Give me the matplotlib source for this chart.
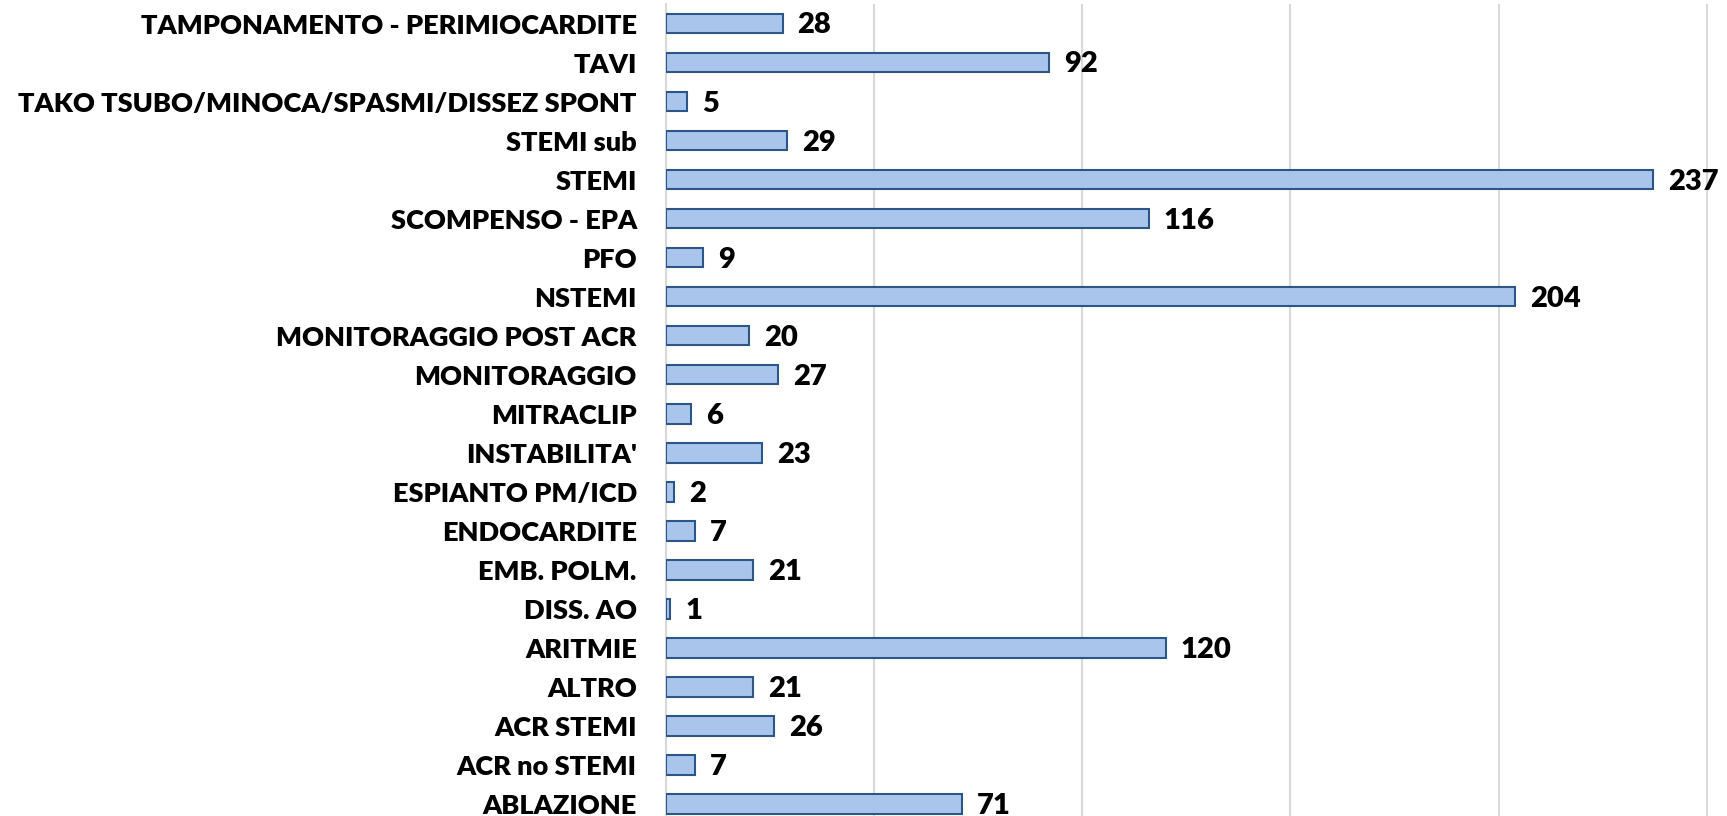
import matplotlib
matplotlib.use("Agg")
import matplotlib.pyplot as plt

categories = ["ABLAZIONE", "ACR no STEMI", "ACR STEMI", "ALTRO", "ARITMIE", "DISS. AO",
              "EMB. POLM.", "ENDOCARDITE", "ESPIANTO PM/ICD", "INSTABILITA'", "MITRACLIP",
              "MONITORAGGIO", "MONITORAGGIO POST ACR", "NSTEMI", "PFO", "SCOMPENSO - EPA",
              "STEMI", "STEMI sub", "TAKO TSUBO/MINOCA/SPASMI/DISSEZ SPONT", "TAVI",
              "TAMPONAMENTO - PERIMIOCARDITE"]
values = [71, 7, 26, 21, 120, 1, 21, 7, 2, 23, 6, 27, 20, 204, 9, 116, 237, 29, 5, 92, 28]
grid_ticks = [50, 100, 150, 200, 250]

plt.rcParams["font.family"] = ["Lato", "DejaVu Sans"]

fig = plt.figure(figsize=(17.27, 8.16), dpi=100)
# the plot area runs slightly past the bottom of the image, as in the original
ax = fig.add_axes([666 / 1727, -7.5 / 816, 1 - 666 / 1727 + 0.01, 819.5 / 816])

pos = list(range(len(categories)))
ax.barh(pos, values, height=0.5, color="#a9c5eb", edgecolor="#2c5687", linewidth=1.5, zorder=3)

for p, v in zip(pos, values):
    ax.text(v + 3.6, p - 0.05, str(v), va="center", ha="left", fontsize=21, fontweight="heavy", color="black")

ax.set_yticks(pos)
ax.set_yticklabels(categories, fontsize=19.5, fontweight="heavy")
ax.tick_params(axis="y", length=0, pad=21)
ax.set_xticks(grid_ticks)
ax.tick_params(axis="x", length=0, labelbottom=False)
ax.xaxis.grid(True, color="#d9d9d9", linewidth=1.5, zorder=0)
ax.set_xlim(0, 259)
ax.set_ylim(-0.5, len(categories) - 0.5)

for s in ["top", "right", "bottom"]:
    ax.spines[s].set_visible(False)
ax.spines["left"].set_color("#d9d9d9")
ax.spines["left"].set_linewidth(1.5)

fig.savefig("out.png", dpi=100)
